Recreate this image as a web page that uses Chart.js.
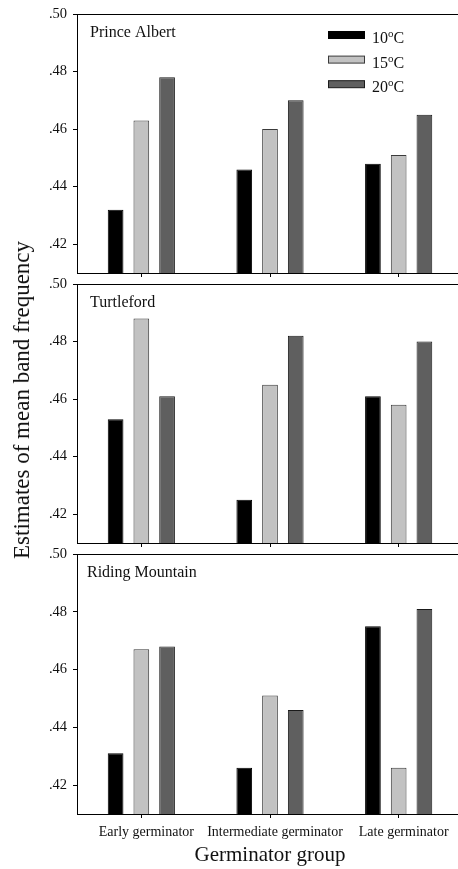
<!DOCTYPE html>
<html>
<head>
<meta charset="utf-8">
<script src="https://cdn.jsdelivr.net/npm/chart.js@4.4.0/dist/chart.umd.min.js"></script>
<style>
  html, body { margin:0; padding:0; background:#fff; overflow:hidden; width:458px; height:869px; }
  canvas { position:absolute; left:0; }
  #ytitle { position:absolute; left:22px; top:400px; transform:translate(-50%,-50%) rotate(-90deg);
            font-family:'Liberation Serif'; font-size:23px; color:#111; white-space:nowrap; }
</style>
</head>
<body>
<canvas id="panel1" width="463" height="280" style="top:0px"></canvas>
<canvas id="panel2" width="463" height="275" style="top:275px"></canvas>
<canvas id="panel3" width="463" height="324" style="top:545px"></canvas>
<div id="ytitle">Estimates of mean band frequency</div>
<script>
var groups = ['Early germinator', 'Intermediate germinator', 'Late germinator'];
var temps = ['10', '15', '20'];
var tickValues = [0.42, 0.44, 0.46, 0.48, 0.50];

// Prince Albert
var princeAlbert10 = [0.432, 0.446, 0.448];
var princeAlbert15 = [0.463, 0.460, 0.451];
var princeAlbert20 = [0.478, 0.470, 0.465];
// Turtleford
var turtleford10 = [0.453, 0.425, 0.461];
var turtleford15 = [0.488, 0.465, 0.458];
var turtleford20 = [0.461, 0.482, 0.480];
// Riding Mountain
var ridingMountain10 = [0.431, 0.426, 0.475];
var ridingMountain15 = [0.467, 0.451, 0.426];
var ridingMountain20 = [0.468, 0.446, 0.481];

var fillColors = ['#000000', '#c2c2c2', '#5f5f5f'];
var edgeColors = ['#000000', '#3a3a3a', '#1a1a1a'];
var serif = 'Liberation Serif';

// frame top line, panel name and the legend with a raised "o"
var panelDecor = {
  id: 'panelDecor',
  afterDraw: function(chart, args, opts) {
    var ctx = chart.ctx, a = chart.chartArea;
    ctx.save();
    ctx.strokeStyle = '#000';
    ctx.lineWidth = 1;
    ctx.beginPath();
    ctx.moveTo(a.left, Math.round(a.top) + 0.5);
    ctx.lineTo(a.right, Math.round(a.top) + 0.5);
    ctx.stroke();

    ctx.fillStyle = '#111';
    ctx.textBaseline = 'alphabetic';
    ctx.font = '16px "' + serif + '"';
    ctx.fillText(opts.title, a.left + opts.titleX, a.top + 23);

    if (opts.legend) {
      chart.data.datasets.forEach(function(ds, i) {
        var y = a.top + 21 + i * 24.6;
        ctx.fillStyle = ds.backgroundColor;
        ctx.fillRect(a.left + 251, y - 3.5, 37, 7);
        ctx.strokeStyle = ds.borderColor;
        ctx.strokeRect(a.left + 251.5, y - 3.5, 36, 7);
        var x = a.left + 295;
        ctx.fillStyle = '#111';
        ctx.font = '16px "' + serif + '"';
        ctx.fillText(temps[i], x, y + 8);
        x += ctx.measureText(temps[i]).width;
        ctx.font = '11px "' + serif + '"';
        ctx.fillText('o', x, y + 2);
        x += ctx.measureText('o').width;
        ctx.font = '16px "' + serif + '"';
        ctx.fillText('C', x, y + 8);
      });
    }
    ctx.restore();
  }
};

function makePanel(id, title, titleX, s10, s15, s20, opt) {
  var series = [s10, s15, s20];
  var datasets = series.map(function(d, i) {
    return {
      label: temps[i] + '\u00baC',
      data: d,
      backgroundColor: fillColors[i],
      borderColor: edgeColors[i],
      borderWidth: 1,
      categoryPercentage: 0.6,
      barPercentage: 0.61
    };
  });
  return new Chart(document.getElementById(id).getContext('2d'), {
    type: 'bar',
    data: { labels: groups, datasets: datasets },
    options: {
      responsive: false,
      animation: false,
      layout: { padding: { top: opt.padTop, left: 0, right: 0, bottom: 0 } },
      plugins: {
        legend: { display: false },
        tooltip: { enabled: false },
        panelDecor: { title: title, titleX: titleX, legend: opt.legend }
      },
      scales: {
        x: {
          offset: true,
          grid: { display: true, offset: false, drawOnChartArea: false, drawTicks: true, tickLength: 4, color: '#000' },
          border: { display: true, color: '#000', width: 1 },
          ticks: { display: opt.showX, color: '#111', font: { family: serif, size: 14 }, padding: 6, labelOffset: 5, maxRotation: 0, autoSkip: false },
          title: { display: opt.showX, text: 'Germinator group', color: '#111', font: { family: serif, size: 21 }, padding: { top: 0, bottom: 1 } },
          afterFit: function(s) { s.height = opt.xHeight; s.paddingLeft = 0; s.paddingRight = 0; }
        },
        y: {
          min: 0.41,
          max: 0.50,
          afterBuildTicks: function(s) { s.ticks = tickValues.map(function(v) { return { value: v }; }); },
          afterFit: function(s) { s.width = 77; s.paddingTop = 0; s.paddingBottom = 0; },
          grid: { display: true, drawOnChartArea: false, drawTicks: true, tickLength: 4, color: '#000' },
          border: { display: true, color: '#000', width: 1 },
          ticks: {
            color: '#111',
            padding: 6,
            font: { family: serif, size: 14.5 },
            callback: function(v) { return Number(v).toFixed(2).replace(/^0/, ''); }
          }
        }
      }
    },
    plugins: [panelDecor]
  });
}

window.onload = function() {
  makePanel('panel1', 'Prince Albert', 13, princeAlbert10, princeAlbert15, princeAlbert20,
            { padTop: 14, xHeight: 7, showX: false, legend: true });
  makePanel('panel2', 'Turtleford', 13, turtleford10, turtleford15, turtleford20,
            { padTop: 9, xHeight: 7, showX: false, legend: false });
  makePanel('panel3', 'Riding Mountain', 10, ridingMountain10, ridingMountain15, ridingMountain20,
            { padTop: 9, xHeight: 55, showX: true, legend: false });
};
</script>
</body>
</html>
